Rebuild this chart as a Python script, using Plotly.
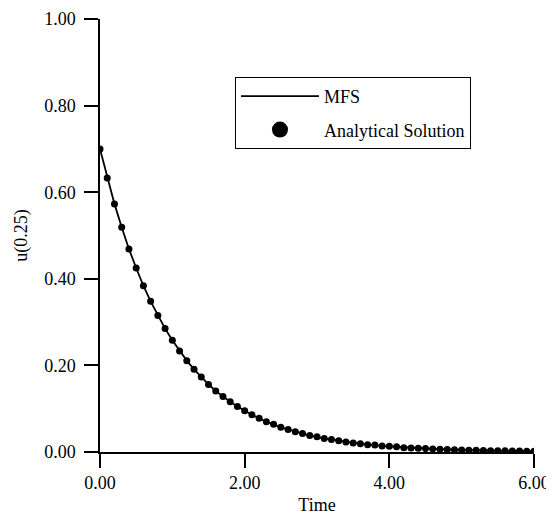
import plotly.graph_objects as go

time = [round(0.1 * i, 1) for i in range(61)]

analytical = [0.700, 0.633, 0.573, 0.519, 0.469, 0.425, 0.384, 0.348, 0.315, 0.285,
              0.258, 0.233, 0.211, 0.191, 0.173, 0.156, 0.141, 0.128, 0.116, 0.105,
              0.095, 0.086, 0.078, 0.070, 0.064, 0.057, 0.052, 0.047, 0.043, 0.038,
              0.035, 0.031, 0.029, 0.026, 0.023, 0.021, 0.019, 0.017, 0.016, 0.014,
              0.013, 0.012, 0.010, 0.0095, 0.0086, 0.0078, 0.0070, 0.0064, 0.0058, 0.0052,
              0.0047, 0.0043, 0.0038, 0.0035, 0.0031, 0.0029, 0.0026, 0.0023, 0.0021, 0.0019,
              0.0017]

mfs = [0.700, 0.633, 0.573, 0.519, 0.469, 0.425, 0.384, 0.348, 0.315, 0.285,
       0.258, 0.233, 0.211, 0.191, 0.173, 0.156, 0.141, 0.128, 0.116, 0.105,
       0.095, 0.086, 0.078, 0.070, 0.064, 0.057, 0.052, 0.047, 0.043, 0.038,
       0.035, 0.031, 0.029, 0.026, 0.023, 0.021, 0.019, 0.017, 0.016, 0.014,
       0.013, 0.012, 0.010, 0.0095, 0.0086, 0.0078, 0.0070, 0.0064, 0.0058, 0.0052,
       0.0047, 0.0043, 0.0038, 0.0035, 0.0031, 0.0029, 0.0026, 0.0023, 0.0021, 0.0019,
       0.0017]

x_ticks = [0, 2, 4, 6]
x_tick_labels = ["0.00", "2.00", "4.00", "6.00"]
y_ticks = [0, 0.2, 0.4, 0.6, 0.8, 1.0]
y_tick_labels = ["0.00", "0.20", "0.40", "0.60", "0.80", "1.00"]

FONT = "Liberation Serif, Times New Roman, serif"

fig = go.Figure()
fig.add_trace(go.Scatter(
    x=time, y=mfs, mode="lines", name="MFS",
    line=dict(color="black", width=1.8),
    legendgroup="a",
))
fig.add_trace(go.Scatter(
    x=time, y=analytical, mode="markers", name="Analytical Solution",
    marker=dict(color="black", size=7),
    showlegend=False,
))
# legend entry with a large marker, as in the reference
fig.add_trace(go.Scatter(
    x=[None], y=[None], mode="markers", name="Analytical Solution",
    marker=dict(color="black", size=16),
    legendgroup="b",
))

# the page body has an 8px default margin, so the figure is sized/placed to compensate
fig.update_layout(
    width=546, height=508,
    margin=dict(l=92, r=20, t=11, b=64, autoexpand=False),
    plot_bgcolor="white", paper_bgcolor="white",
    font=dict(family=FONT, size=18, color="black"),
    showlegend=True,
    legend=dict(
        x=0.311, y=0.866, xanchor="left", yanchor="top",
        bordercolor="black", borderwidth=1, bgcolor="white",
        font=dict(family=FONT, size=18, color="black"),
        itemwidth=78, tracegroupgap=7,
        itemsizing="trace",
    ),
)
fig.update_xaxes(
    range=[0, 6], tickmode="array", tickvals=x_ticks, ticktext=x_tick_labels,
    showgrid=False, zeroline=False, showline=True, linecolor="black", linewidth=1.5,
    ticks="outside", ticklen=14, tickwidth=1.5, tickcolor="black",
    ticklabelstandoff=0, automargin=False,
    title=dict(text="Time", standoff=6, font=dict(family=FONT, size=18)),
)
fig.update_yaxes(
    range=[0, 1], tickmode="array", tickvals=y_ticks, ticktext=y_tick_labels,
    showgrid=False, zeroline=False, showline=True, linecolor="black", linewidth=1.5,
    ticks="outside", ticklen=14, tickwidth=1.5, tickcolor="black",
    ticklabelstandoff=5, automargin=False,
    title=dict(text="u(0.25)", standoff=12, font=dict(family=FONT, size=18)),
)

fig.write_html("out.html")
